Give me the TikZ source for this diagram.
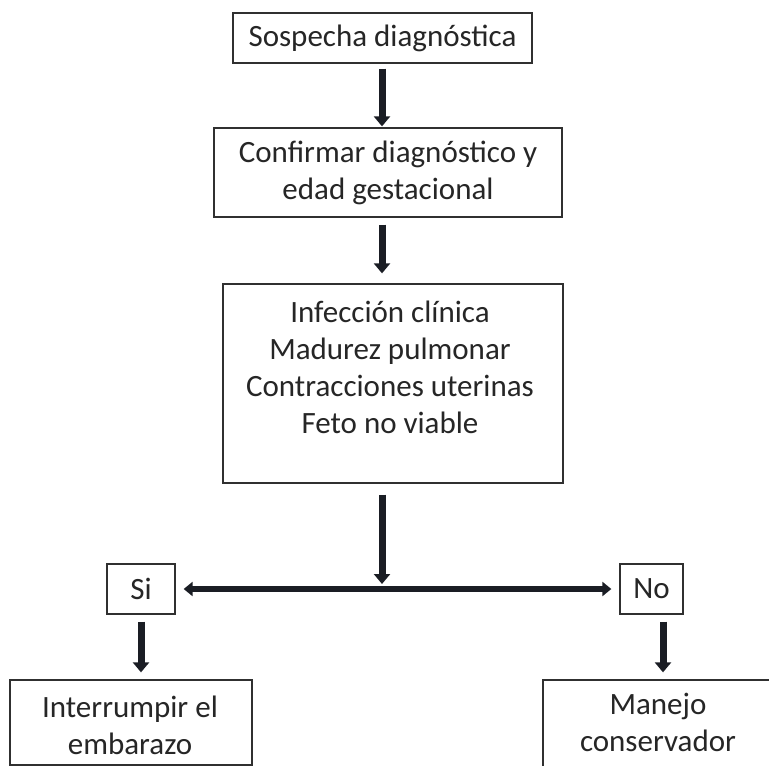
\documentclass[tikz,border=0pt]{standalone}
\usepackage{fontspec}
\setmainfont{Carlito}
\usetikzlibrary{arrows.meta}
\definecolor{boxc}{HTML}{303030}
\definecolor{txtc}{HTML}{262626}
\definecolor{arrc}{HTML}{1A1D24}
\begin{document}
\begin{tikzpicture}[x=1pt,y=-1pt,
  box/.style={draw=boxc, line width=1.3pt, inner sep=0pt, fill=white},
  txt/.style={text=txtc, font=\fontsize{31}{37}\selectfont, align=center, inner sep=0pt},
  arr/.style={draw=arrc, line width=7pt, -{Triangle[width=16pt,length=10pt]}},
  darr/.style={draw=arrc, line width=6pt, {Triangle[width=14pt,length=9pt]}-{Triangle[width=14pt,length=9pt]}},
]
\useasboundingbox (0,0) rectangle (769,766);
\clip (0,0) rectangle (769,766);
% boxes
\node[box, txt, minimum width=299pt, minimum height=50pt] (b1) at (382.5,38) {Sospecha diagnóstica};
\node[box, txt, minimum width=348pt, minimum height=89pt] (b2) at (388,172.5) {Confirmar diagnóstico y\\edad gestacional};
\node[box, minimum width=340pt, minimum height=199pt] (b3) at (393,383.5) {};
\node[txt] (b3t) at (390,367) {Infección clínica\\Madurez pulmonar\\Contracciones uterinas\\Feto no viable};
\node[box, txt, minimum width=68pt, minimum height=50pt] (si) at (141,589) {Si};
\node[box, txt, minimum width=63pt, minimum height=50pt] (no) at (651.5,589) {No};
\node[box, minimum width=242pt, minimum height=85pt] (int) at (131,722.5) {};
\node[txt] (intt) at (130,725) {Interrumpir el\\embarazo};
\node[box, minimum width=240pt, minimum height=120pt] (man) at (663,740) {};
\node[txt] (mant) at (658,722) {Manejo\\conservador};
\coordinate (j) at (382,588);
% connectors
\draw[arr, shorten <=5pt, shorten >=1pt] (b1.south -| j) -- (b2.north -| j);
\draw[arr, shorten <=7pt, shorten >=10pt] (b2.south -| j) -- (b3.north -| j);
\draw[arr, shorten <=11pt, shorten >=4pt] (b3.south -| j) -- (j);
\draw[darr, shorten <=8pt, shorten >=8pt] (si.east) -- (no.west);
\draw[arr, shorten <=7pt, shorten >=7pt] (si.south) -- (si.south |- int.north);
\draw[arr, shorten <=7pt, shorten >=7pt] (no.south -| 663,0) -- (man.north -| 663,0);
\end{tikzpicture}
\end{document}
